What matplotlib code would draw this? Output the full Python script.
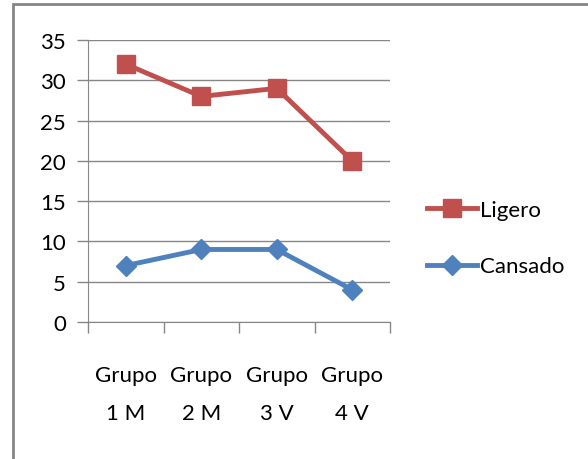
import matplotlib.pyplot as plt
import matplotlib.patches as mpatches

categories = ['Grupo\n1 M', 'Grupo\n2 M', 'Grupo\n3 V', 'Grupo\n4 V']
ligero = [32, 28, 29, 20]
cansado = [7, 9, 9, 4]

plt.rcParams['font.family'] = ['Lato', 'DejaVu Sans']

fig = plt.figure(figsize=(5.88, 4.6), dpi=100)
ax = fig.add_axes([88 / 588, 1 - 323 / 460, (390 - 88) / 588, (323 - 41) / 460])

x = range(len(categories))
ax.plot(x, ligero, color='#C0504D', lw=3.5, marker='s', ms=12.5, label='Ligero')
ax.plot(x, cansado, color='#4F81BD', lw=3.5, marker='D', ms=10, label='Cansado')

ax.set_xlim(-0.5, 3.5)
ax.set_ylim(0, 35)
ax.set_yticks(range(0, 36, 5))
ax.set_xticks([-0.5, 0.5, 1.5, 2.5, 3.5])
ax.set_xticklabels([])
ax.set_xticks(list(x), minor=True)
ax.set_xticklabels(categories, minor=True, fontsize=16, linespacing=2.1)
ax.tick_params(axis='x', which='minor', length=0, pad=31)
ax.tick_params(axis='x', which='major', length=8, color='#868686', width=1)
ax.tick_params(axis='y', length=8, color='#868686', width=1, labelsize=16, pad=8)

ax.grid(axis='y', color='#868686', lw=1)
ax.set_axisbelow(True)
for s in ['top', 'right']:
    ax.spines[s].set_visible(False)
ax.spines['left'].set_color('#868686')
ax.spines['bottom'].set_color('#868686')

leg = fig.legend(loc='center left', bbox_to_anchor=(407 / 588, 1 - 239 / 460), frameon=False,
                 fontsize=16, handlelength=2.25, handletextpad=0.15, labelspacing=1.65)

# outer border (cut off on right and bottom)
fig.patches.append(mpatches.Rectangle((13 / 588, -0.1), 1.2, 1 - 5 / 460 + 0.1,
                                      transform=fig.transFigure, fill=False,
                                      edgecolor='#868686', lw=2))

fig.savefig('out.png', dpi=100)
